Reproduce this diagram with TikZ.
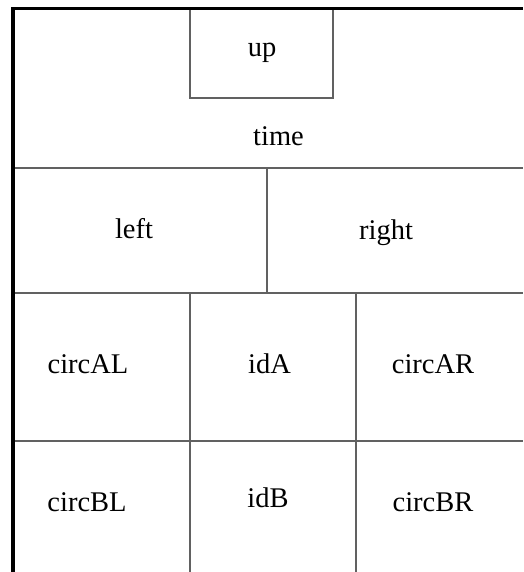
\documentclass[tikz,border=0pt]{standalone}
\usepackage{fontspec}
\setmainfont{Liberation Serif}
\begin{document}
\begin{tikzpicture}[x=1pt, y=-1pt,
  label/.style = {anchor=base, inner sep=0pt, font=\fontsize{28.5}{34}\selectfont},
  rule/.style = {draw=black!62, line width=1.3pt},
  frame/.style = {draw=black, line width=3.6pt}]
\useasboundingbox (0,0) rectangle (523,572);
\clip (0,0) rectangle (523,572);
% table rules
\draw[rule] (190,8) |- (333,98) -- (333,8);
\draw[rule] (13,168) -- (523,168);
\draw[rule] (267,168) -- (267,293);
\draw[rule] (13,293) -- (523,293);
\draw[rule] (13,441) -- (523,441);
\draw[rule] (190,293) -- (190,572);
\draw[rule] (356,293) -- (356,572);
% outer frame, top and left only
\draw[frame] (13,572) -- (13,8.5) -- (523,8.5);
% cell texts
\node[label] (up) at (262,57) {up};
\node[label] (time) at (278.5,146) {time};
\node[label] (left) at (134,238) {left};
\node[label] (right) at (386,239) {right};
\node[label] (circAL) at (88,373) {circAL};
\node[label] (idA) at (269.5,373) {idA};
\node[label] (circAR) at (433,373) {circAR};
\node[label] (circBL) at (87,511) {circBL};
\node[label] (idB) at (268,507) {idB};
\node[label] (circBR) at (433,511) {circBR};
\end{tikzpicture}
\end{document}
